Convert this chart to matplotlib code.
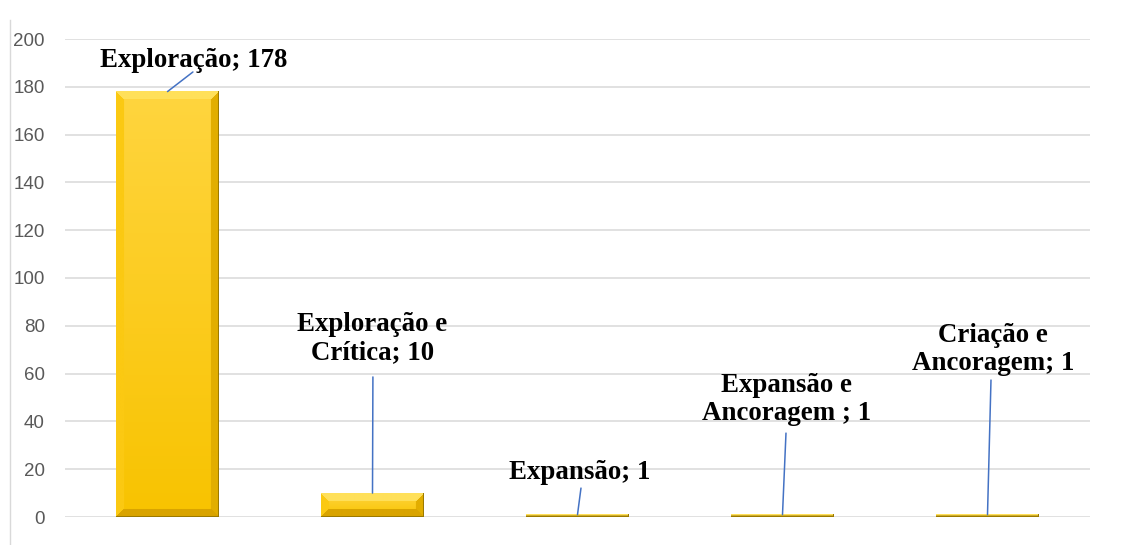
import numpy as np
import matplotlib
matplotlib.use("Agg")
import matplotlib.pyplot as plt
from matplotlib.lines import Line2D

# =================================================================
# DATA
# =================================================================
categories = ["Exploração", "Exploração e\nCrítica", "Expansão",
              "Expansão e\nAncoragem ", "Criação e\nAncoragem"]
values = [178, 10, 1, 1, 1]
y_ticks = [0, 20, 40, 60, 80, 100, 120, 140, 160, 180, 200]

# label anchor (x offset from bar, y in data units) and leader start
label_pos = [(0.129, 188.3), (0.0, 66.1), (0.01, 15.9), (0.02, 40.6), (0.027, 61.5)]
leader_start = [(0.124, 186.2), (0.002, 58.6), (0.017, 12.1), (0.017, 35.1), (0.017, 57.3)]

GRID = "#d9d9d9"
TICK = "#595959"
LEADER = "#4472C4"


def hex2rgb(h):
    h = h.lstrip("#")
    return np.array([int(h[i:i + 2], 16) / 255 for i in (0, 2, 4)])


def bevel_image(w_px, h_px, bev=8):
    """RGB array imitating Excel's gold bevel bar."""
    W = max(2, int(round(w_px)))
    H = max(2, int(round(h_px)))
    b = min(bev, H / 2.0, W / 2.0)
    face_top, face_bot = hex2rgb("#FFD53F"), hex2rgb("#F8C300")
    c_top = hex2rgb("#FFE05A")
    c_bot = hex2rgb("#D9A400")
    c_left = hex2rgb("#FBC912")
    c_right = hex2rgb("#E2AE00")
    img = np.zeros((H, W, 3))
    for i in range(H):
        t = i / max(H - 1, 1)
        face = face_top * (1 - t) + face_bot * t
        for j in range(W):
            d = [i + 0.5, H - i - 0.5, j + 0.5, W - j - 0.5]
            k = int(np.argmin(d))
            if d[k] < b:
                img[i, j] = [c_top, c_bot, c_left, c_right][k]
            else:
                img[i, j] = face
    # dark rim on right and bottom
    img[-1, :] = hex2rgb("#9C7A00")
    img[:, -1] = hex2rgb("#9C7A00")
    return img


fig = plt.figure(figsize=(11.3, 5.45), dpi=100)
ax = fig.add_axes([65 / 1130, 28 / 545, 1025 / 1130, 478 / 545])

x = np.arange(len(categories))
width = 0.5
px_per_x = 1025 / 5.0
px_per_y = 478 / 200.0

bars = ax.bar(x, values, width, color="#FFCC00", zorder=2, linewidth=0)
for rect, v in zip(bars, values):
    x0 = rect.get_x()
    img = bevel_image(width * px_per_x, v * px_per_y)
    ax.imshow(img, extent=(x0, x0 + width, 0, v), aspect="auto",
              interpolation="bilinear", zorder=3)

for i, (cat, v) in enumerate(zip(categories, values)):
    lx, ly = label_pos[i]
    ax.text(i + lx, ly, f"{cat}; {v}", ha="center", va="baseline",
            fontsize=19.4, fontweight="bold", family="Liberation Serif",
            color="black", linespacing=1.15, zorder=5)
    sx, sy = leader_start[i]
    ax.annotate("", xy=(i, v), xytext=(i + sx, sy),
                arrowprops=dict(arrowstyle="-", color=LEADER, lw=1.1,
                                shrinkA=0, shrinkB=0), zorder=4)

ax.set_xlim(-0.5, len(categories) - 0.5)
ax.set_ylim(0, 200)
ax.set_yticks(y_ticks)
ax.set_yticklabels([str(t) for t in y_ticks])
ax.set_xticks([])
ax.grid(axis="y", color=GRID, linewidth=1.1, zorder=0)
ax.set_axisbelow(True)
for s in ax.spines.values():
    s.set_visible(False)
ax.tick_params(axis="y", length=0, pad=14.5, labelsize=13.5, labelcolor=TICK)
for lab in ax.get_yticklabels():
    lab.set_family("Liberation Sans")

# thin border line at the far left of the chart area
fig.add_artist(Line2D([9.5 / 1130, 9.5 / 1130], [0, 525 / 545], color=GRID, lw=1.0))

fig.savefig("out.png", dpi=100)
